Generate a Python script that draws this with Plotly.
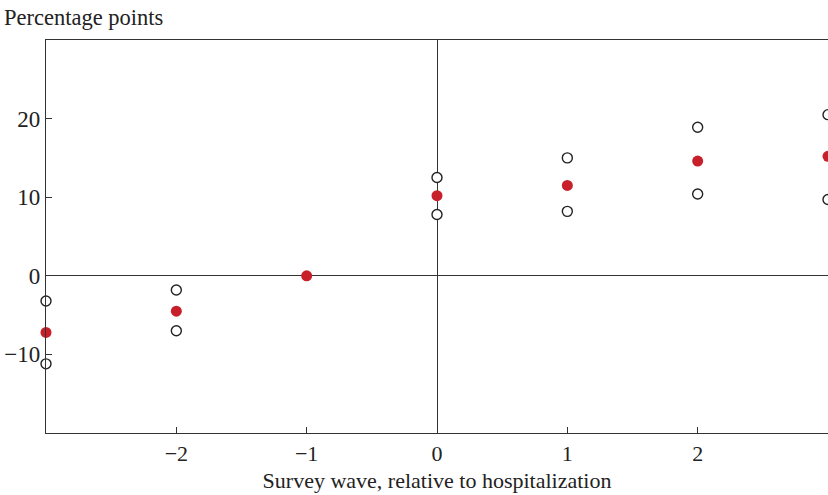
import plotly.graph_objects as go

waves = [-3, -2, -1, 0, 1, 2, 3]
estimate = [-7.2, -4.5, 0.0, 10.2, 11.5, 14.6, 15.2]
upper_ci = [-3.2, -1.8, None, 12.5, 15.0, 18.9, 20.5]
lower_ci = [-11.2, -7.0, None, 7.8, 8.2, 10.4, 9.7]

x_ticks = [-2, -1, 0, 1, 2]
y_ticks = [-10, 0, 10, 20]

font = "Liberation Serif, Times New Roman, serif"

fig = go.Figure()
open_marker = dict(size=10, color="white", line=dict(color="#222", width=1.4))
fig.add_trace(go.Scatter(x=waves, y=upper_ci, mode="markers", marker=open_marker,
                         cliponaxis=False, showlegend=False))
fig.add_trace(go.Scatter(x=waves, y=lower_ci, mode="markers", marker=open_marker,
                         cliponaxis=False, showlegend=False))
fig.add_trace(go.Scatter(x=waves, y=estimate, mode="markers",
                         marker=dict(size=11, color="#c8202a", line=dict(width=0)),
                         cliponaxis=False, showlegend=False))

fig.update_layout(
    width=828, height=495,
    margin=dict(l=46, r=0, t=40, b=62),
    paper_bgcolor="white", plot_bgcolor="white",
    font=dict(family=font, size=22, color="#222"),
    xaxis=dict(range=[-3, 3.0], tickvals=x_ticks, ticks="inside", ticklen=6,
               tickcolor="#333", showgrid=False, showline=True, linecolor="#333",
               linewidth=1.2, mirror=True, zeroline=True, zerolinecolor="#333",
               zerolinewidth=1.2,
               title=dict(text="Survey wave, relative to hospitalization",
                          font=dict(size=22), standoff=8)),
    yaxis=dict(range=[-20, 30], tickvals=y_ticks, ticks="inside", ticklen=6,
               tickcolor="#333", showgrid=False, showline=True, linecolor="#333",
               linewidth=1.2, zeroline=True, zerolinecolor="#333", zerolinewidth=1.2,
               tickfont=dict(size=23)),
    annotations=[dict(text="Percentage points", xref="paper", yref="paper",
                      x=-46/782, y=1, xanchor="left", yanchor="bottom", yshift=8,
                      xshift=2, showarrow=False, font=dict(size=22.5))],
)

fig.write_html("out.html", config={"displayModeBar": False},
               post_script="document.body.style.margin='0';")
